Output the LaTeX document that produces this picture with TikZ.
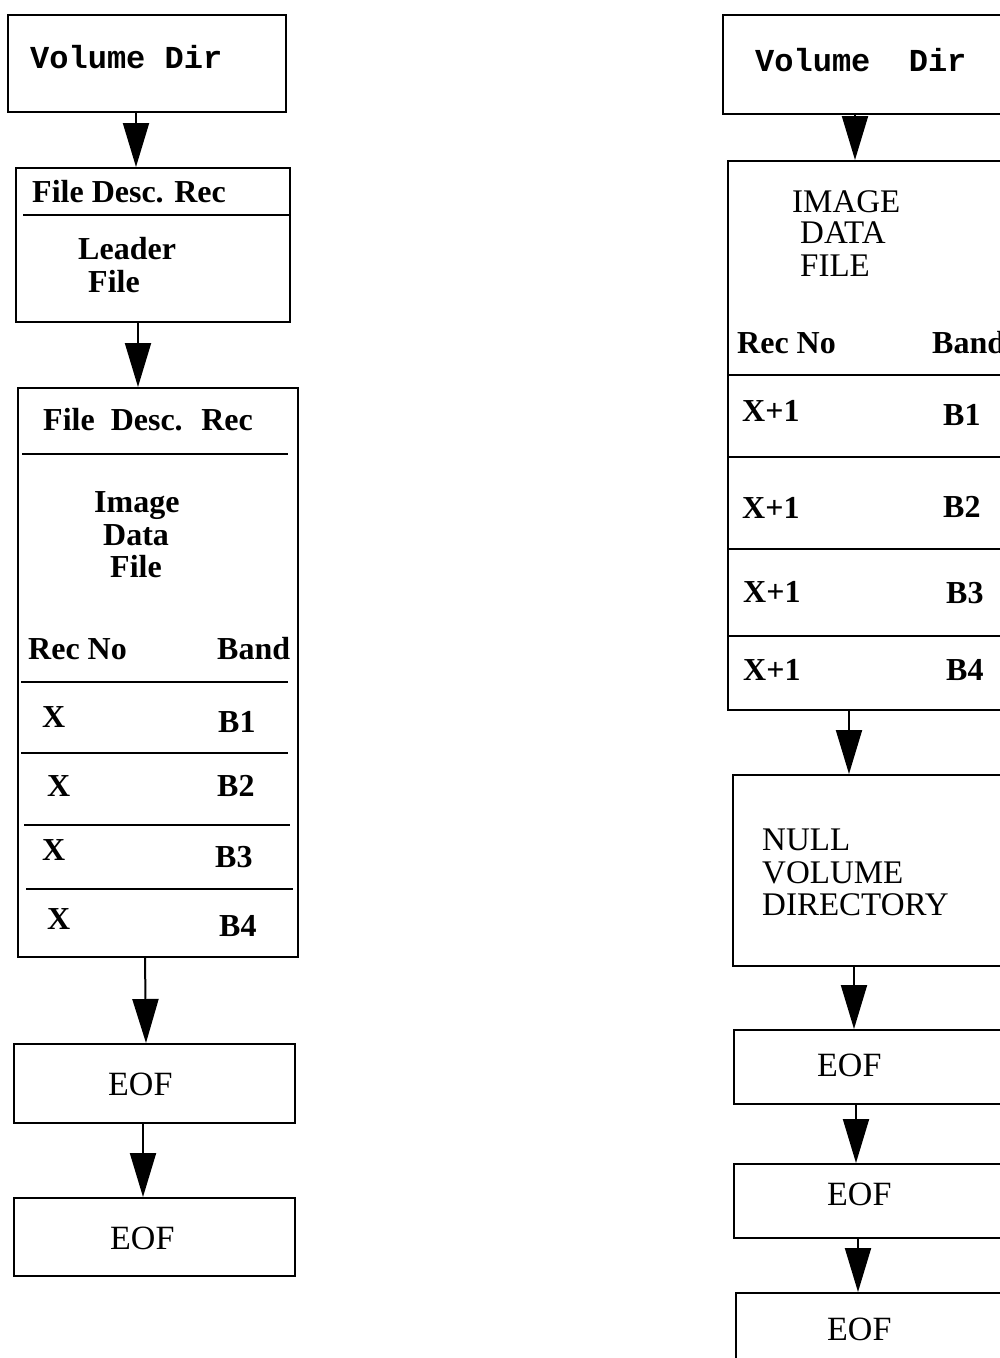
\documentclass[tikz,border=0pt]{standalone}
\usepackage{fontspec}
\setmainfont{Liberation Serif}
\setmonofont{Liberation Mono}
\usetikzlibrary{arrows.meta}
\begin{document}
\begin{tikzpicture}[x=1pt,y=-1pt,
  box/.style={draw, line width=2pt, rectangle, inner sep=0pt, anchor=north west},
  rule/.style={line width=2pt},
  arr/.style={line width=2pt, -{Triangle[length=44pt,width=26pt]}},
  lbl/.style={inner sep=0pt, anchor=base west, font=\fontsize{32}{32}\bfseries\selectfont},
  capt/.style={inner sep=0pt, anchor=base west, font=\fontsize{33}{33}\selectfont},
  eoft/.style={inner sep=0pt, anchor=base west, font=\fontsize{34}{34}\selectfont},
  mono/.style={inner sep=0pt, anchor=base west, font=\fontsize{32}{32}\ttfamily\bfseries\selectfont}]
\useasboundingbox (0,0) rectangle (1000,1358);
\clip (0,0) rectangle (1000,1358);

% ---------------- left column ----------------
\node[box, minimum width=278, minimum height=97] (vd1) at (7,14) {};
\node[mono] (vd1t) at (30,68) {Volume Dir};

\node[box, minimum width=274, minimum height=154] (ldr) at (15,167) {};
\draw[rule] (23,215) -- (289,215);
\node[lbl] (ldrh) at (32,202) {File Desc. Rec};
\node[lbl] (ldr1) at (78,259) {Leader};
\node[lbl] (ldr2) at (88,292) {File};

\node[box, minimum width=280, minimum height=569] (idf1) at (17,387) {};
\draw[rule] (22,454) -- (288,454);
\draw[rule] (21,682) -- (288,682);
\draw[rule] (21,753) -- (288,753);
\draw[rule] (24,825) -- (290,825);
\draw[rule] (26,889) -- (293,889);
\node[lbl] (idfh) at (43,430) {File\hspace{8pt} Desc.\hspace{8pt} Rec};
\node[lbl] (idf1a) at (94,512) {Image};
\node[lbl] (idf1b) at (103,545) {Data};
\node[lbl] (idf1c) at (110,577) {File};
\node[lbl] (rn1) at (28,659) {Rec No};
\node[lbl] (bd1) at (217,659) {Band};
\node[lbl] (x1) at (42,727) {X};
\node[lbl] (b1) at (218,732) {B1};
\node[lbl] (x2) at (47,796) {X};
\node[lbl] (b2) at (217,796) {B2};
\node[lbl] (x3) at (42,860) {X};
\node[lbl] (b3) at (215,867) {B3};
\node[lbl] (x4) at (47,929) {X};
\node[lbl] (b4) at (219,936) {B4};

\node[box, minimum width=281, minimum height=79] (eof1) at (13,1043) {};
\node[eoft] (eof1t) at (108,1095) {EOF};
\node[box, minimum width=281, minimum height=78] (eof2) at (13,1197) {};
\node[eoft] (eof2t) at (110,1249) {EOF};

\draw[arr] ([xshift=-11pt]vd1.south) -- ([xshift=-17pt]ldr.north);
\draw[arr] ([xshift=-15pt]ldr.south) -- ([xshift=-20pt]idf1.north);
\draw[arr] ([xshift=-13pt]idf1.south) -- ([xshift=-8.5pt]eof1.north);
\draw[arr] ([xshift=-11.5pt]eof1.south) -- ([xshift=-11.5pt]eof2.north);

% ---------------- right column ----------------
\node[box, minimum width=290, minimum height=99] (vd2) at (722,14) {};
\node[mono] (vd2t) at (755,71) {Volume\ \ Dir};

\node[box, minimum width=285, minimum height=549] (idf2) at (727,160) {};
\node[capt] (i2a) at (792,212) {IMAGE};
\node[capt] (i2b) at (800,243) {DATA};
\node[capt] (i2c) at (800,276) {FILE};
\node[lbl] (rn2) at (737,353) {Rec No};
\node[lbl] (bd2) at (932,353) {Band};
\draw[rule] (727,375) -- (1012,375);
\draw[rule] (727,457) -- (1012,457);
\draw[rule] (727,549) -- (1012,549);
\draw[rule] (727,636) -- (1012,636);
\node[lbl] (y1) at (742,421) {X+1};
\node[lbl] (c1) at (943,425) {B1};
\node[lbl] (y2) at (742,518) {X+1};
\node[lbl] (c2) at (943,517) {B2};
\node[lbl] (y3) at (743,602) {X+1};
\node[lbl] (c3) at (946,603) {B3};
\node[lbl] (y4) at (743,680) {X+1};
\node[lbl] (c4) at (946,680) {B4};

\node[box, minimum width=280, minimum height=191] (nvd) at (732,774) {};
\node[capt] (n1) at (762,850) {NULL};
\node[capt] (n2) at (762,883) {VOLUME};
\node[capt] (n3) at (762,915) {DIRECTORY};

\node[box, minimum width=280, minimum height=74] (eof3) at (733,1029) {};
\node[eoft] (eof3t) at (817,1076) {EOF};
\node[box, minimum width=280, minimum height=74] (eof4) at (733,1163) {};
\node[eoft] (eof4t) at (827,1205) {EOF};
\node[box, minimum width=280, minimum height=100] (eof5) at (735,1292) {};
\node[eoft] (eof5t) at (827,1340) {EOF};

\draw[arr] ([xshift=-13pt]vd2.south) -- ([xshift=-15.5pt]idf2.north);
\draw[arr] ([xshift=-21.5pt]idf2.south) -- ([xshift=-24pt]nvd.north);
\draw[arr] ([xshift=-19pt]nvd.south) -- ([xshift=-20pt]eof3.north);
\draw[arr] ([xshift=-18pt]eof3.south) -- ([xshift=-18pt]eof4.north);
\draw[arr] ([xshift=-16pt]eof4.south) -- ([xshift=-18pt]eof5.north);
\end{tikzpicture}
\end{document}
